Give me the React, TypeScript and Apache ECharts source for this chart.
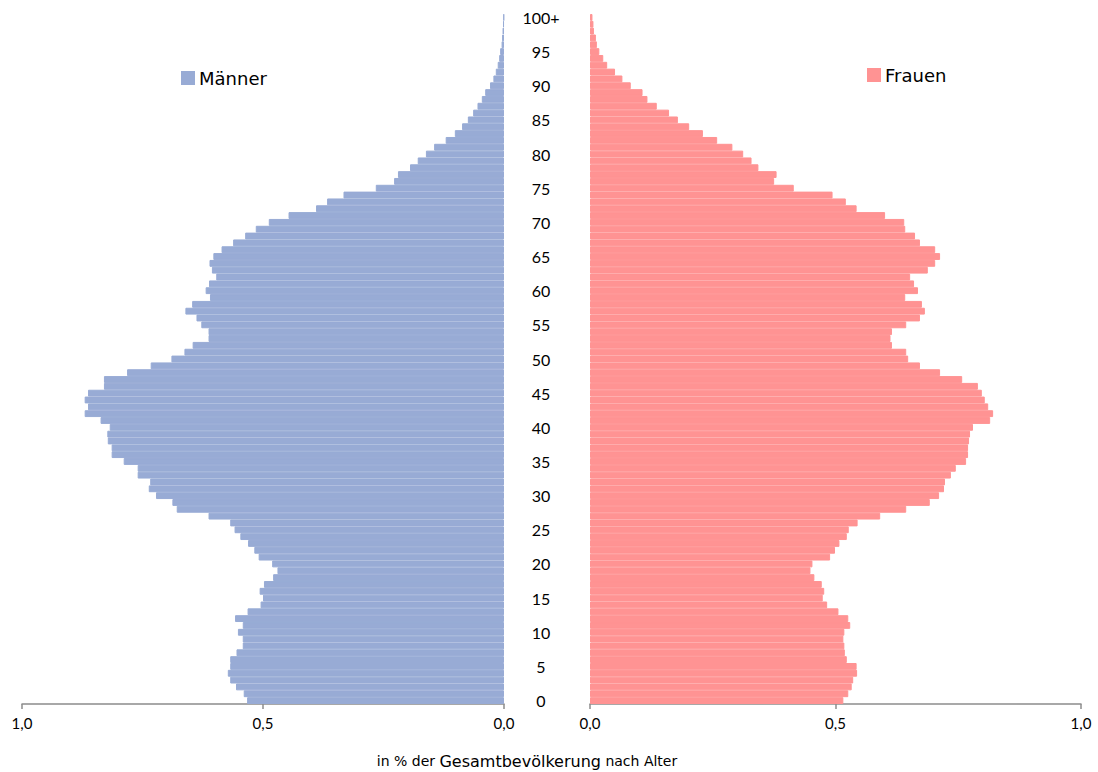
import React, { useEffect, useRef } from "react";
import * as echarts from "echarts";

const ages: string[] = Array.from({ length: 101 }, (_, i) => (i === 100 ? "100+" : String(i)));

const maenner: number[] = [
  0.533, 0.540, 0.556, 0.568, 0.573, 0.568, 0.568, 0.555, 0.542, 0.542,
  0.552, 0.542, 0.558, 0.532, 0.505, 0.500, 0.507, 0.498, 0.479, 0.470,
  0.481, 0.509, 0.518, 0.531, 0.547, 0.559, 0.568, 0.613, 0.679, 0.688,
  0.722, 0.737, 0.734, 0.760, 0.760, 0.789, 0.814, 0.814, 0.822, 0.823,
  0.818, 0.837, 0.870, 0.863, 0.870, 0.863, 0.830, 0.830, 0.782, 0.733,
  0.690, 0.663, 0.646, 0.613, 0.613, 0.628, 0.638, 0.661, 0.647, 0.610,
  0.619, 0.612, 0.597, 0.606, 0.611, 0.603, 0.586, 0.562, 0.537, 0.515,
  0.488, 0.447, 0.390, 0.367, 0.333, 0.266, 0.228, 0.220, 0.195, 0.179,
  0.162, 0.145, 0.121, 0.102, 0.087, 0.075, 0.064, 0.055, 0.046, 0.039,
  0.029, 0.022, 0.017, 0.013, 0.010, 0.008, 0.005, 0.004, 0.003, 0.002,
  0.001,
];

const frauen: number[] = [
  0.516, 0.526, 0.533, 0.536, 0.544, 0.543, 0.523, 0.519, 0.518, 0.516,
  0.518, 0.530, 0.526, 0.506, 0.483, 0.474, 0.477, 0.472, 0.457, 0.449,
  0.453, 0.489, 0.499, 0.508, 0.523, 0.527, 0.545, 0.591, 0.644, 0.692,
  0.711, 0.721, 0.723, 0.735, 0.745, 0.766, 0.770, 0.770, 0.772, 0.774,
  0.780, 0.815, 0.821, 0.811, 0.804, 0.798, 0.790, 0.758, 0.713, 0.672,
  0.648, 0.644, 0.615, 0.612, 0.615, 0.644, 0.672, 0.682, 0.676, 0.642,
  0.668, 0.660, 0.652, 0.688, 0.703, 0.713, 0.703, 0.672, 0.662, 0.642,
  0.640, 0.601, 0.543, 0.521, 0.494, 0.415, 0.375, 0.380, 0.343, 0.329,
  0.312, 0.290, 0.259, 0.230, 0.202, 0.179, 0.161, 0.136, 0.117, 0.107,
  0.083, 0.066, 0.051, 0.035, 0.027, 0.019, 0.014, 0.012, 0.008, 0.007,
  0.005,
];

const xTicks: number[] = [0, 0.5, 1];

const FONT = "Lato";
const FONT2 = "DejaVu Sans";
const BLUE = "#98abd5";
const PINK = "#ff9393";
const AXIS = "#8c8c8c";

export default function App() {
  const ref = useRef<HTMLDivElement>(null);
  useEffect(() => {
    if (!ref.current) return;
    const chart = echarts.init(ref.current, undefined, { renderer: "svg" });
    const fmt = (v: number) => (xTicks.includes(v) ? v.toFixed(1).replace(".", ",") : "");
    const valueAxis = (gridIndex: number, inverse: boolean) => ({
      type: "value",
      gridIndex,
      min: 0,
      max: 1,
      interval: 0.5,
      inverse,
      position: "bottom",
      axisLine: { show: true, lineStyle: { color: AXIS, width: 1.5 } },
      axisTick: { show: true, length: 5, lineStyle: { color: AXIS, width: 1.5 } },
      splitLine: { show: false },
      axisLabel: { formatter: fmt, fontSize: 15, color: "#000", margin: 11, fontFamily: FONT },
    });
    chart.setOption({
      animation: false,
      textStyle: { fontFamily: FONT },
      grid: [
        { left: 22, right: 594, top: 14, bottom: 68, containLabel: false },
        { left: 590, right: 17, top: 14, bottom: 68, containLabel: false },
      ],
      legend: [
        {
          data: ["Männer"],
          left: 176,
          top: 64,
          icon: "rect",
          itemWidth: 12,
          itemHeight: 12,
          selectedMode: false,
          textStyle: { fontSize: 18, color: "#000", fontFamily: FONT2 },
        },
        {
          data: ["Frauen"],
          left: 862,
          top: 61,
          icon: "rect",
          itemWidth: 12,
          itemHeight: 12,
          selectedMode: false,
          textStyle: { fontSize: 18, color: "#000", fontFamily: FONT2 },
        },
      ],
      xAxis: [valueAxis(0, true), valueAxis(1, false)],
      yAxis: [
        {
          type: "category",
          gridIndex: 0,
          data: ages,
          position: "right",
          axisLine: { show: false },
          axisTick: { show: false },
          axisLabel: {
            interval: 4,
            align: "center",
            margin: 37,
            fontSize: 16,
            color: "#000",
            fontFamily: FONT,
          },
        },
        {
          type: "category",
          gridIndex: 1,
          data: ages,
          axisLine: { show: false },
          axisTick: { show: false },
          axisLabel: { show: false },
        },
      ],
      series: [
        {
          name: "Männer",
          type: "bar",
          xAxisIndex: 0,
          yAxisIndex: 0,
          data: maenner,
          barCategoryGap: "0%",
          itemStyle: { color: BLUE, borderColor: BLUE, borderWidth: 1 },
        },
        {
          name: "Frauen",
          type: "bar",
          xAxisIndex: 1,
          yAxisIndex: 1,
          data: frauen,
          barCategoryGap: "0%",
          itemStyle: { color: PINK, borderColor: PINK, borderWidth: 1 },
        },
      ],
      graphic: [
        {
          type: "text",
          x: 527,
          y: 761,
          style: {
            text: "{s|in % der }{b|Gesamtbevölkerung}{s| nach Alter}",
            align: "center",
            verticalAlign: "middle",
            rich: {
              s: { fontSize: 14, fill: "#000", fontFamily: FONT2 },
              b: { fontSize: 16, fill: "#000", fontFamily: FONT2 },
            },
          },
        },
      ],
    });
    return () => chart.dispose();
  }, []);
  return (
    <div
      ref={ref}
      style={{ position: "fixed", left: 0, top: 0, width: 1098, height: 772, background: "#fff" }}
    />
  );
}
